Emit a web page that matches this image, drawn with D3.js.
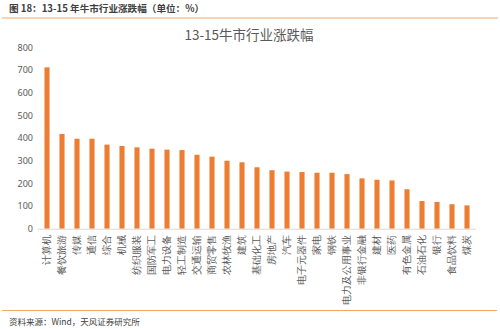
<!DOCTYPE html>
<html><head><meta charset="utf-8">
<script src="https://cdn.jsdelivr.net/npm/d3@7"></script>
<style>body{margin:0;background:#fff;}svg{display:block;font-family:"Noto Sans CJK SC","Noto Sans",sans-serif;}</style>
</head><body><svg id="c" width="500" height="329"></svg>
<script>
const categories = ["计算机","餐饮旅游","传媒","通信","综合","机械","纺织服装","国防军工","电力设备","轻工制造","交通运输","商贸零售","农林牧渔","建筑","基础化工","房地产","汽车","电子元器件","家电","钢铁","电力及公用事业","非银行金融","建材","医药","有色金属","石油石化","银行","食品饮料","煤炭"];
const values = [712,418,397,397,371,365,359,353,349,347,326,318,300,293,271,258,252,250,247,247,241,222,216,213,174,122,118,108,103];
const yTicks = [0,100,200,300,400,500,600,700,800];

const svg = d3.select("#c");
const orange = "#ED7D31", rule = "#F2A766";

svg.append("text").attr("x",9).attr("y",12).attr("font-size",9.6).attr("font-weight","bold").attr("fill","#404040")
  .text("图 18：13-15 年牛市行业涨跌幅（单位：%）");
svg.append("line").attr("x1",2).attr("x2",498).attr("y1",18).attr("y2",18).attr("stroke",rule).attr("stroke-width",1.2);

svg.append("text").attr("x",249).attr("y",40).attr("text-anchor","middle").attr("font-size",13.5).attr("fill","#595959")
  .text("13-15牛市行业涨跌幅");

const x = d3.scaleBand().domain(categories).range([39.5,474.5]).paddingInner(0.66).paddingOuter(0.33);
const y = d3.scaleLinear().domain([0,800]).range([228.7,47.4]);

const ya = svg.append("g").attr("transform","translate(33,0)")
  .call(d3.axisLeft(y).tickValues(yTicks).tickSize(0).tickPadding(0));
ya.select(".domain").remove();
ya.selectAll("text").attr("font-size",9).attr("fill","#595959").attr("font-family","'Noto Sans',sans-serif");

svg.append("g").selectAll("rect").data(values).join("rect")
  .attr("x",(d,i)=>x(categories[i])).attr("width",x.bandwidth())
  .attr("y",d=>y(d)).attr("height",d=>y(0)-y(d)).attr("fill",orange);

const xa = svg.append("g").attr("transform",`translate(0,${y(0)})`)
  .call(d3.axisBottom(x).tickSize(0).tickPadding(0));
xa.select(".domain").attr("stroke","#d9d9d9").attr("d","M38,0.5H476");
xa.selectAll("text").attr("font-size",9.5).attr("fill","#595959")
  .attr("text-anchor","end").attr("dy","0.35em")
  .attr("transform","translate(0,6) rotate(-90)").attr("y",0).attr("x",0);

svg.append("line").attr("x1",2).attr("x2",497).attr("y1",310.5).attr("y2",310.5).attr("stroke",rule).attr("stroke-width",1.2);
svg.append("text").attr("x",9).attr("y",325).attr("font-size",8.5).attr("fill","#404040")
  .text("资料来源：Wind，天风证券研究所");
</script></body></html>
